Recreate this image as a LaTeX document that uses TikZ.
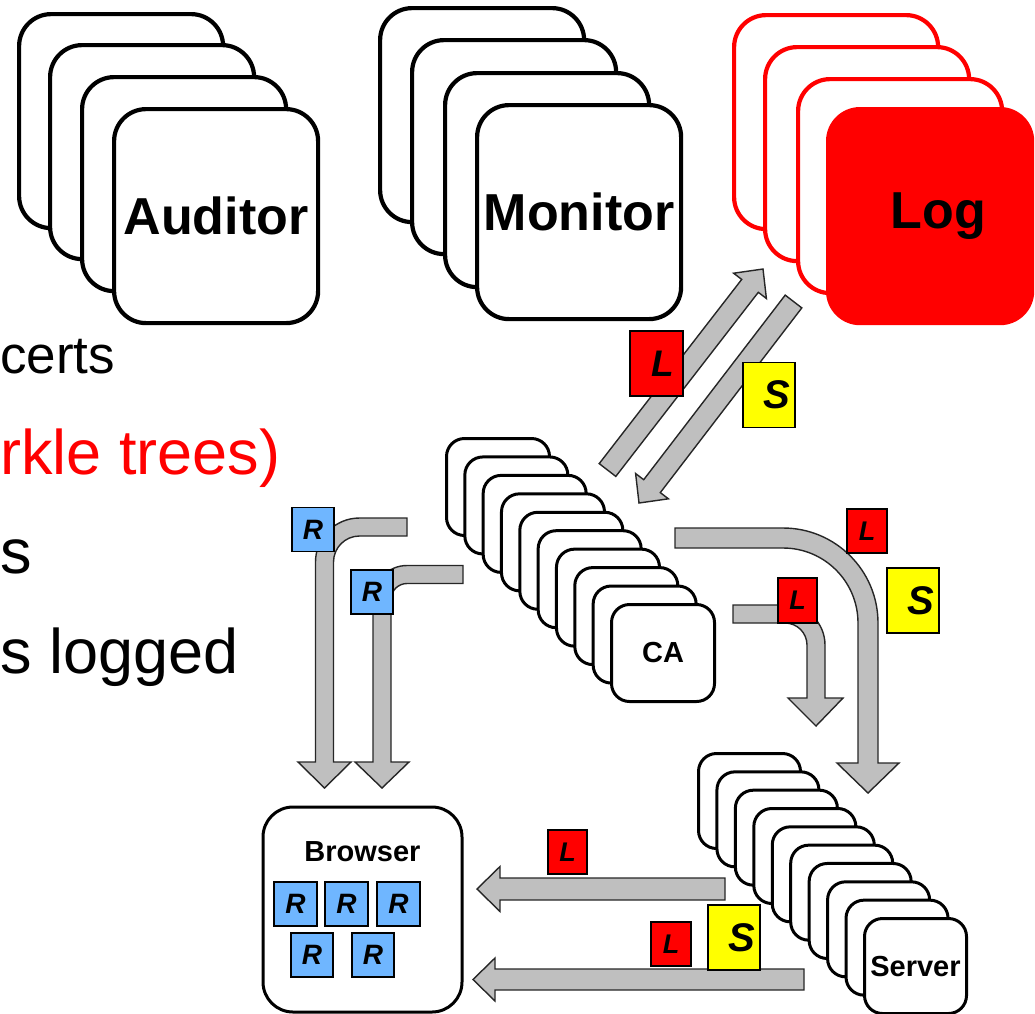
\documentclass[tikz,border=0pt]{standalone}
\usepackage{fontspec}
\setmainfont{Liberation Sans}
\definecolor{arrowgray}{RGB}{191,191,191}
\definecolor{rblue}{RGB}{111,182,255}
\definecolor{pureRed}{RGB}{255,0,0}
\definecolor{pureYellow}{RGB}{255,255,0}
\begin{document}
\begin{tikzpicture}[x=1pt,y=-1pt,
  bigcard/.style={draw=black, line width=4.2pt, fill=white, rounded corners=32pt,
    minimum width=204pt, minimum height=214pt, anchor=north west, inner sep=0pt,
    font=\fontsize{52}{52}\selectfont\bfseries},
  logcard/.style={bigcard, draw=pureRed},
  smallcard/.style={draw=black, line width=3pt, fill=white, rounded corners=18pt,
    minimum width=103pt, minimum height=97pt, anchor=north west, inner sep=0pt,
    font=\fontsize{29}{29}\selectfont\bfseries},
  blockarrow/.style={fill=arrowgray, draw=black!85, line width=1.4pt, line join=miter},
  tag/.style={draw=black, line width=1.4pt, inner sep=0pt},
  bigtag/.style={tag, minimum width=52pt, minimum height=65pt,
    font=\fontsize{40}{40}\selectfont\bfseries\itshape},
  smalltag/.style={tag, minimum width=40pt, minimum height=44pt,
    font=\fontsize{27}{27}\selectfont\bfseries\itshape},
  rtag/.style={tag, fill=rblue, minimum width=42pt, minimum height=44pt,
    font=\fontsize{28}{28}\selectfont\bfseries\itshape},
  bullet/.style={anchor=base west, inner sep=0pt, font=\fontsize{63}{63}\selectfont}
]
\useasboundingbox (0,0) rectangle (1035,1013);

% partially hidden bullet text on the left
\node[bullet, font=\fontsize{53}{53}\selectfont] (t1) at (0,373) {certs};
\node[bullet, text=pureRed] (t2) at (0,474) {rkle trees)};
\node[bullet] (t3) at (0,573) {s};
\node[bullet] (t4) at (0,673) {s logged};

% Auditor stack
\node[bigcard] (aud1) at (17,12) {};
\node[bigcard] (aud2) at (48,43) {};
\node[bigcard] (aud3) at (80,75) {};
\node[bigcard] (aud4) at (112,107) {Auditor};

% Monitor stack
\node[bigcard] (mon1) at (378,6) {};
\node[bigcard] (mon2) at (410,38) {};
\node[bigcard] (mon3) at (443,71) {};
\node[bigcard] (mon4) at (475,103) {Monitor};

% Log stack
\node[logcard] (log1) at (732,13) {};
\node[logcard] (log2) at (763,45) {};
\node[logcard] (log3) at (796,77) {};
\node[logcard, fill=pureRed] (log4) at (826,107) {\hspace*{16pt}Log};

% CA stack
\foreach \i in {0,...,8}{
  \node[smallcard] (ca\i) at ({445+18.33*\i},{437+18.44*\i}) {};
}
\node[smallcard] (ca9) at (610,603) {CA};

% Server stack
\foreach \i in {0,...,8}{
  \node[smallcard, minimum width=102pt, minimum height=95pt] (srv\i) at ({697+18.44*\i},{752+18.33*\i}) {};
}
\node[smallcard, minimum width=102pt, minimum height=95pt] (srv9) at (863,917) {Server};

% Browser
\node[draw=black, line width=3pt, rounded corners=30pt, minimum width=199pt,
  minimum height=205pt, inner sep=0pt] (browser) at (362.5,909.5) {};
\node[anchor=base, inner sep=0pt, font=\fontsize{29}{29}\selectfont\bfseries]
  (browsertitle) at (362.5,861) {Browser};

% arrows between CA and Log
\draw[blockarrow] (599.2,463.6) -- (615.8,476.4) -- (758.3,292.3) -- (766.4,298.5)
  -- (763,269) -- (733.6,273.2) -- (741.7,279.4) -- cycle;
\draw[blockarrow] (785.2,295.1) -- (801.8,307.9) -- (660.3,492.6) -- (668.4,498.8)
  -- (639,503) -- (635.6,473.5) -- (643.7,479.7) -- cycle;

% R arrows (CA -> Browser)
\draw[blockarrow] (407,518) -- (359.5,518) arc[start angle=90,end angle=180,radius=44pt]
  -- (315.5,762) -- (298,762) -- (324.5,788) -- (351,762) -- (333.5,762) -- (333.5,562)
  arc[start angle=180,end angle=90,radius=26pt] -- (407,536) -- cycle;
\draw[blockarrow] (463,565.5) -- (407,565.5) arc[start angle=90,end angle=180,radius=34pt]
  -- (373,762) -- (355,762) -- (382,788) -- (409,762) -- (391,762) -- (391,599.5)
  arc[start angle=180,end angle=90,radius=16pt] -- (463,583.5) -- cycle;

% L arrows (CA -> Server)
\draw[blockarrow] (675,528) -- (783,528) arc[start angle=90,end angle=0,radius=95pt]
  -- (878,763) -- (899,763) -- (868,793) -- (837,763) -- (858,763) -- (858,623)
  arc[start angle=0,end angle=90,radius=75pt] -- (675,548) -- cycle;
\draw[blockarrow] (733,605) -- (785,605) arc[start angle=90,end angle=0,radius=40pt]
  -- (825,698) -- (843,698) -- (816,726) -- (788,698) -- (807,698) -- (807,645)
  arc[start angle=0,end angle=90,radius=22pt] -- (733,623) -- cycle;

% Server -> Browser arrows
\draw[blockarrow] (725,878) -- (500,878) -- (500,866.5) -- (477,889) -- (500,911.5)
  -- (500,900) -- (725,900) -- cycle;
\draw[blockarrow] (804,969) -- (495,969) -- (495,958) -- (473,979.5) -- (495,1001)
  -- (495,990) -- (804,990) -- cycle;

% tags
\node[bigtag, fill=pureRed, minimum width=53pt, font=\fontsize{37}{37}\selectfont\bfseries\itshape]
  (logL) at (656.5,363.5) {\hspace*{12pt}L};
\node[bigtag, fill=pureYellow] (logS) at (769,395) {\hspace*{16pt}S};
\node[rtag] (r1) at (313,529.5) {R};
\node[rtag] (r2) at (372,592) {R};
\node[smalltag, fill=pureRed] (bigL) at (867,531) {L};
\node[bigtag, fill=pureYellow] (rightS) at (913,600.5) {\hspace*{16pt}S};
\node[smalltag, fill=pureRed, minimum width=39pt, minimum height=45pt] (smallL) at (797.5,600.5) {L};
\node[smalltag, fill=pureRed, minimum width=39pt] (brL1) at (567.5,852) {L};
\node[smalltag, fill=pureRed] (brL2) at (671,944) {L};
\node[bigtag, fill=pureYellow] (brS) at (734,937.5) {\hspace*{16pt}S};

% R certificates in browser
\node[rtag, minimum width=43pt] (br1) at (295.5,904) {R};
\node[rtag, minimum width=43pt] (br2) at (346.5,904) {R};
\node[rtag, minimum width=43pt] (br3) at (398.5,904) {R};
\node[rtag] (br4) at (312,955) {R};
\node[rtag] (br5) at (373,955) {R};
\end{tikzpicture}
\end{document}
